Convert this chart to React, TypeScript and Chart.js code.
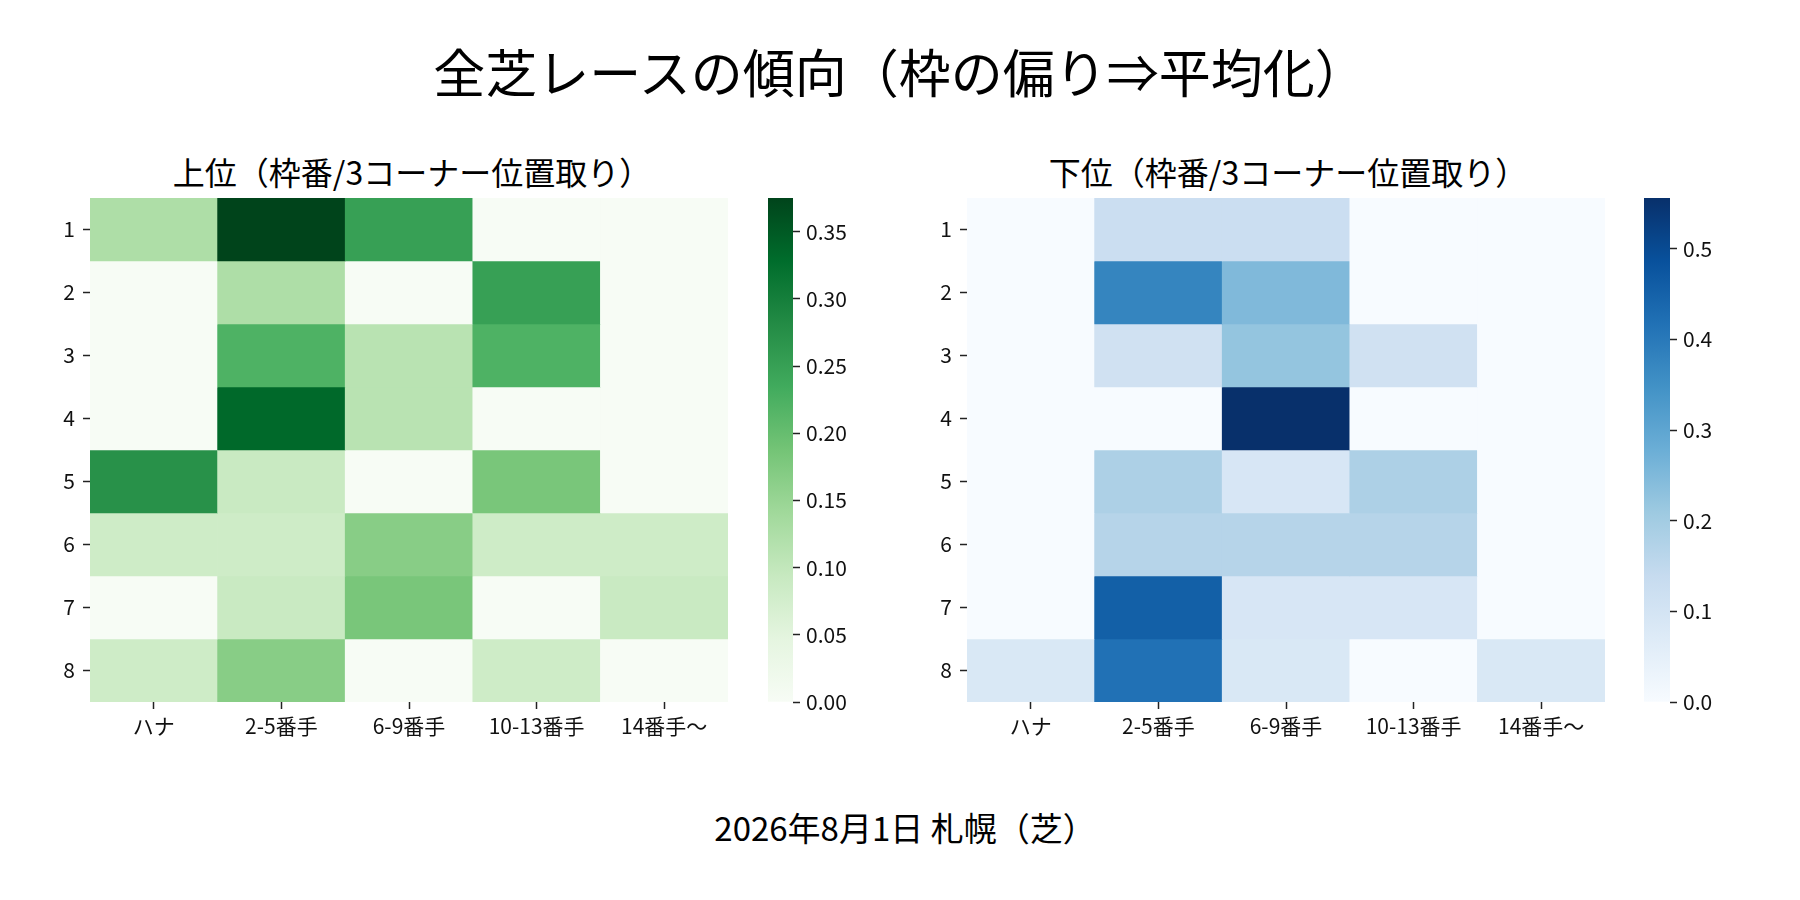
import React, { useEffect, useRef } from 'react';
import { Chart, registerables } from 'chart.js';

Chart.register(...registerables);

const FONT = '"Noto Sans CJK JP", "Noto Sans", sans-serif';

const mainTitle = '全芝レースの傾向（枠の偏り⇒平均化）';
const caption = '2026年8月1日 札幌（芝）';
const topTitle = '上位（枠番/3コーナー位置取り）';
const bottomTitle = '下位（枠番/3コーナー位置取り）';

const rowLabels = ['1', '2', '3', '4', '5', '6', '7', '8'];
const colLabels = ['ハナ', '2-5番手', '6-9番手', '10-13番手', '14番手〜'];

// 上位 (rows = 枠番 1..8, cols = 3コーナー位置)
const topValues = [
  [0.125, 0.375, 0.25, 0, 0],
  [0, 0.125, 0, 0.25, 0],
  [0, 0.222, 0.111, 0.222, 0],
  [0, 0.333, 0.111, 0, 0],
  [0.273, 0.091, 0, 0.182, 0],
  [0.083, 0.083, 0.167, 0.083, 0.083],
  [0, 0.091, 0.182, 0, 0.091],
  [0.083, 0.167, 0, 0.083, 0],
];

// 下位
const bottomValues = [
  [0, 0.125, 0.125, 0, 0],
  [0, 0.375, 0.25, 0, 0],
  [0, 0.111, 0.222, 0.111, 0],
  [0, 0, 0.556, 0, 0],
  [0, 0.182, 0.091, 0.182, 0],
  [0, 0.167, 0.167, 0.167, 0],
  [0, 0.455, 0.091, 0.091, 0],
  [0.083, 0.417, 0.083, 0, 0.083],
];

const topTicks = [0, 0.05, 0.1, 0.15, 0.2, 0.25, 0.3, 0.35];
const bottomTicks = [0, 0.1, 0.2, 0.3, 0.4, 0.5];

const GREENS = ['#f7fcf5', '#e5f5e0', '#c7e9c0', '#a1d99b', '#74c476', '#41ab5d', '#238b45', '#006d2c', '#00441b'];
const BLUES = ['#f7fbff', '#deebf7', '#c6dbef', '#9ecae1', '#6baed6', '#4292c6', '#2171b5', '#08519c', '#08306b'];

function hexToRgb(h: string): number[] {
  return [parseInt(h.slice(1, 3), 16), parseInt(h.slice(3, 5), 16), parseInt(h.slice(5, 7), 16)];
}

function cmap(stops: string[], t: number): string {
  const x = Math.max(0, Math.min(1, t)) * (stops.length - 1);
  const i = Math.min(stops.length - 2, Math.floor(x));
  const f = x - i;
  const a = hexToRgb(stops[i]);
  const b = hexToRgb(stops[i + 1]);
  const c = a.map((v, k) => Math.round(v + (b[k] - v) * f));
  return `rgb(${c[0]},${c[1]},${c[2]})`;
}

const tickFont = { family: FONT, size: 21 };
const TEXT = '#111';
const TICKCOL = '#222';

const noPad = (s: any) => {
  s.paddingTop = 0;
  s.paddingBottom = 0;
  s.paddingLeft = 0;
  s.paddingRight = 0;
};

function heatmapConfig(values: number[][], stops: string[]): any {
  const vmax = Math.max(...values.flat());
  return {
    type: 'bar',
    data: {
      labels: colLabels,
      datasets: rowLabels.map((r, i) => ({
        label: r,
        data: values[i].map(() => [i + 0.5, i + 1.5]),
        backgroundColor: values[i].map((v) => cmap(stops, v / vmax)),
        borderWidth: 0,
        barPercentage: 1,
        categoryPercentage: 1,
        grouped: false,
      })),
    },
    options: {
      animation: false,
      responsive: false,
      devicePixelRatio: 1,
      layout: { padding: { top: 10, right: 40, left: 0, bottom: 0 } },
      plugins: {
        legend: { display: false },
        tooltip: { enabled: false },
        title: { display: false },
      },
      scales: {
        x: {
          type: 'category',
          offset: true,
          grid: { offset: false, drawOnChartArea: false, drawTicks: true, tickLength: 7, tickColor: TICKCOL, tickWidth: 1.5 },
          border: { display: false },
          ticks: { font: tickFont, color: TEXT, padding: 4, maxRotation: 0, autoSkip: false },
          afterFit: (s: any) => { s.height = 60; noPad(s); },
        },
        y: {
          type: 'linear',
          min: 0.5,
          max: 8.5,
          reverse: true,
          grid: { drawOnChartArea: false, drawTicks: true, tickLength: 7, tickColor: TICKCOL, tickWidth: 1.5 },
          border: { display: false },
          afterBuildTicks: (s: any) => { s.ticks = rowLabels.map((_, i) => ({ value: i + 1 })); },
          ticks: {
            font: tickFont,
            color: TEXT,
            padding: 8,
            callback: (v: number) => rowLabels[Math.round(v) - 1] ?? '',
          },
          afterFit: (s: any) => { s.width = 40; noPad(s); },
        },
      },
    },
  };
}

function colorbarConfig(values: number[][], stops: string[], ticks: number[], decimals: number): any {
  const vmax = Math.max(...values.flat());
  return {
    type: 'bar',
    data: {
      labels: [''],
      datasets: [{
        data: [[0, vmax]],
        borderWidth: 0,
        barPercentage: 1,
        categoryPercentage: 1,
        backgroundColor: (ctx: any) => {
          const area = ctx.chart.chartArea;
          if (!area) return stops[4];
          const g = ctx.chart.ctx.createLinearGradient(0, area.bottom, 0, area.top);
          stops.forEach((c, i) => g.addColorStop(i / (stops.length - 1), c));
          return g;
        },
      }],
    },
    options: {
      animation: false,
      responsive: false,
      devicePixelRatio: 1,
      layout: { padding: { top: 20, bottom: 20, left: 0, right: 0 } },
      plugins: { legend: { display: false }, tooltip: { enabled: false }, title: { display: false } },
      scales: {
        x: { display: false, offset: true },
        y: {
          type: 'linear',
          position: 'right',
          min: 0,
          max: vmax,
          grid: { drawOnChartArea: false, drawTicks: true, tickLength: 7, tickColor: TICKCOL, tickWidth: 1.5 },
          border: { display: false },
          afterBuildTicks: (s: any) => { s.ticks = ticks.map((v) => ({ value: v })); },
          ticks: {
            font: tickFont,
            color: TEXT,
            padding: 6,
            callback: (v: number) => Number(v).toFixed(decimals),
          },
          afterFit: (s: any) => { s.width = 70; noPad(s); },
        },
      },
    },
  };
}

function ChartCanvas(props: { config: any; left: number; top: number; width: number; height: number }) {
  const ref = useRef<HTMLCanvasElement | null>(null);
  useEffect(() => {
    if (!ref.current) return;
    const chart = new Chart(ref.current, props.config);
    return () => chart.destroy();
  }, []);
  return (
    <canvas
      ref={ref}
      width={props.width}
      height={props.height}
      style={{ position: 'absolute', left: props.left, top: props.top, width: props.width, height: props.height }}
    />
  );
}

function Label(props: { text: string; cx: number; top: number; size: number }) {
  return (
    <div style={{ position: 'absolute', left: props.cx - 600, width: 1200, top: props.top, fontSize: props.size, lineHeight: `${props.size}px`, textAlign: 'center', color: '#000', whiteSpace: 'nowrap' }}>
      {props.text}
    </div>
  );
}

export default function App() {
  return (
    <div style={{ position: 'absolute', left: 0, top: 0, width: 1800, height: 900, background: '#fff', overflow: 'hidden', fontFamily: FONT }}>
      <Label text={mainTitle} cx={900} top={45} size={52} />
      <Label text={topTitle} cx={412} top={155} size={32} />
      <Label text={bottomTitle} cx={1288} top={155} size={32} />
      <ChartCanvas config={heatmapConfig(topValues, GREENS)} left={50} top={188} width={718} height={574} />
      <ChartCanvas config={colorbarConfig(topValues, GREENS, topTicks, 2)} left={768} top={178} width={95} height={544} />
      <ChartCanvas config={heatmapConfig(bottomValues, BLUES)} left={927} top={188} width={718} height={574} />
      <ChartCanvas config={colorbarConfig(bottomValues, BLUES, bottomTicks, 1)} left={1644} top={178} width={96} height={544} />
      <Label text={caption} cx={905} top={811} size={33} />
    </div>
  );
}
